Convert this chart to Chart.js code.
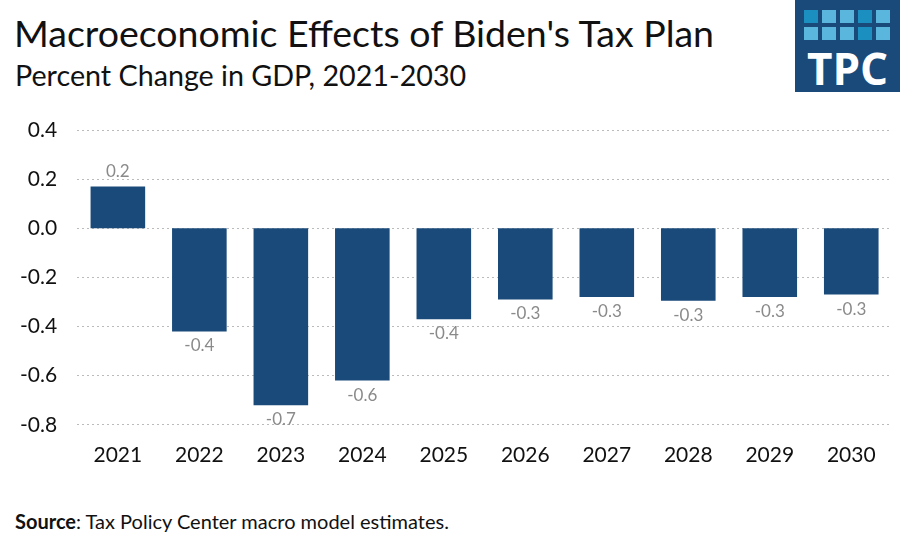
<!DOCTYPE html>
<html><head><meta charset="utf-8">
<script src="https://cdn.jsdelivr.net/npm/chart.js@4"></script>
<style>
body{margin:0;width:900px;height:541px;background:#fff;font-family:Lato,sans-serif;position:relative;overflow:hidden}
#t{position:absolute;left:14px;top:10px;font-size:37.5px;color:#111}
#s{position:absolute;left:15px;top:58px;font-size:28.7px;color:#111}
#src{position:absolute;left:15px;top:509px;font-size:20px;color:#111}
#logo{position:absolute;left:795px;top:0;width:105px;height:92px;background:#1a4a7a}
#grid{position:absolute;left:9px;top:10px;display:grid;grid-template-columns:repeat(5,14px);gap:4px}
#grid div{height:13px;background:#5bb6dd}
#tpc{position:absolute;left:0;width:105px;top:46px;text-align:center;color:#fff;font-size:44px;font-weight:bold;line-height:44px;font-family:"Open Sans",sans-serif}
#wrap{position:absolute;left:0;top:90px;width:900px;height:388px}
</style></head><body>
<div id="t">Macroeconomic Effects of Biden's Tax Plan</div>
<div id="s">Percent Change in GDP, 2021-2030</div>
<div id="logo"><div id="grid"></div><div id="tpc">TPC</div></div>
<div id="wrap"><canvas id="c"></canvas></div>
<div id="src"><b>Source</b>: Tax Policy Center macro model estimates.</div>
<script>
const years = ["2021","2022","2023","2024","2025","2026","2027","2028","2029","2030"];
const gdpChange = [0.17, -0.42, -0.72, -0.62, -0.37, -0.29, -0.28, -0.295, -0.28, -0.27];

const g = document.getElementById("grid");
const shades = ["#1a8fc0","#5bb6dd","#5bb6dd","#1a8fc0","#5bb6dd","#5bb6dd","#5bb6dd","#5bb6dd","#1a8fc0","#5bb6dd"];
for (let i = 0; i < 10; i++) {
    const d = document.createElement("div");
    d.style.background = shades[i];
    g.appendChild(d);
}

const labels = {
    id: "labels",
    afterDatasetsDraw(chart) {
        const ctx = chart.ctx;
        ctx.save();
        ctx.font = "17px Lato";
        ctx.fillStyle = "#8a8a8a";
        ctx.textAlign = "center";
        chart.getDatasetMeta(0).data.forEach((bar, i) => {
            const v = gdpChange[i];
            ctx.textBaseline = v >= 0 ? "bottom" : "top";
            ctx.fillText(v.toFixed(1), bar.x, v >= 0 ? bar.y - 6 : bar.y + 6);
        });
        ctx.restore();
    }
};

new Chart(document.getElementById("c"), {
    type: "bar",
    data: {
        labels: years,
        datasets: [{ data: gdpChange, backgroundColor: "#1a4a7a", categoryPercentage: 0.67, barPercentage: 1 }]
    },
    options: {
        responsive: true, maintainAspectRatio: false, animation: false,
        layout: { padding: { left: 0, right: 8, top: 40, bottom: 0 } },
        plugins: { legend: { display: false }, tooltip: { enabled: false } },
        scales: {
            x: {
                grid: { display: false }, border: { display: false },
                ticks: { color: "#111", font: { family: "Lato", size: 21 }, padding: 10 }
            },
            y: {
                min: -0.8, max: 0.4,
                border: { display: false, dash: [2, 3] },
                grid: { drawTicks: false,
                    color: c => c.tick && c.tick.value === 0 ? "#222" : "#bbb",
                    lineWidth: c => c.tick && c.tick.value === 0 ? 1.5 : 1 },
                ticks: { stepSize: 0.2, color: "#111", font: { family: "Lato", size: 21 }, padding: 20,
                    callback: v => v.toFixed(1) }
            }
        }
    },
    plugins: [labels]
});
</script>
</body></html>
